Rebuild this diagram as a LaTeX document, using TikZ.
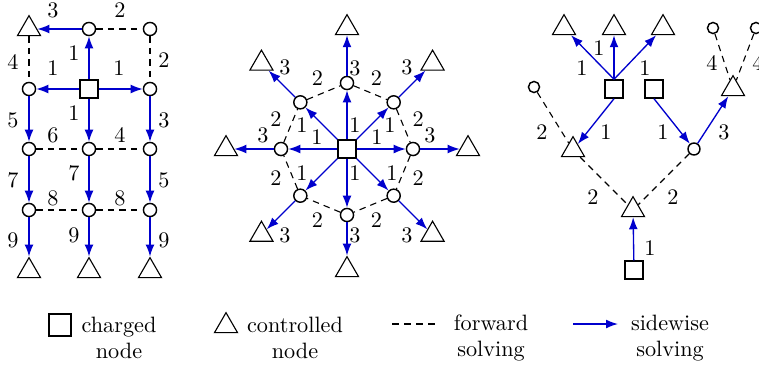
\documentclass[tikz,border=0pt]{standalone}
\usepackage{xcolor}
\usetikzlibrary{positioning,arrows.meta,calc,shapes.geometric}
\definecolor{sideblue}{RGB}{0,0,205}

\begin{document}
\begin{tikzpicture}[
    x=0.45pt, y=-0.45pt,
    charged/.style={draw, rectangle, fill=white, line width=0.65pt, minimum size=8.1pt, inner sep=0pt},
    ctrl/.style={draw, regular polygon, regular polygon sides=3, fill=white, minimum size=12pt, inner sep=0pt, line width=0.5pt},
    free/.style={draw, circle, fill=white, minimum size=5.9pt, inner sep=0pt, line width=0.65pt},
    fwd/.style={dash pattern=on 2.9pt off 2.3pt, line width=0.5pt},
    side/.style={-{Latex[length=5.4pt,width=4pt]}, sideblue, line width=0.6pt},
    lbl/.style={inner sep=0pt, text=black, font=\normalsize}
]
    \useasboundingbox (0,0) rectangle (759,364);
    \clip (0,0) rectangle (759,364);

    % grid
    \node[charged] (g) at (89,89) {};
    \node[ctrl] (t11) at (29,29) {};
    \node[free] (n12) at (89,29) {};
    \node[free] (n13) at (150,29) {};
    \node[free] (n21) at (29,89) {};
    \node[free] (n23) at (150,89) {};
    \foreach \c/\x in {1/29,2/89,3/150}{
        \node[free] (n3\c) at (\x,149) {};
        \node[free] (n4\c) at (\x,210) {};
        \node[ctrl] (t5\c) at (\x,271) {};
    }
    \draw[side] (g) -- (n12) node[lbl] at (74,53) {1};
    \draw[side] (g) -- (n21) node[lbl] at (53,68) {1};
    \draw[side] (g) -- (n23) node[lbl] at (119,68) {1};
    \draw[side] (g) -- (n32) node[lbl] at (74,113) {1};
    \draw[side] (n12) -- (t11) node[lbl] at (53,10) {3};
    \draw[fwd] (n12) -- (n13) node[lbl] at (120,10) {2};
    \draw[fwd] (n13) -- (n23) node[lbl] at (164,60) {2};
    \draw[fwd] (t11) -- (n21) node[lbl] at (13,62) {4};
    \draw[side] (n21) -- (n31) node[lbl] at (13,120) {5};
    \draw[side] (n23) -- (n33) node[lbl] at (164,120) {3};
    \draw[fwd] (n31) -- (n32) node[lbl] at (53,135) {6};
    \draw[fwd] (n32) -- (n33) node[lbl] at (120,135) {4};
    \draw[side] (n31) -- (n41) node[lbl] at (13,180) {7};
    \draw[side] (n32) -- (n42) node[lbl] at (74,173) {7};
    \draw[side] (n33) -- (n43) node[lbl] at (164,180) {5};
    \draw[fwd] (n41) -- (n42) node[lbl] at (53,198) {8};
    \draw[fwd] (n42) -- (n43) node[lbl] at (120,198) {8};
    \draw[side] (n41) -- (t51) node[lbl] at (13,240) {9};
    \draw[side] (n42) -- (t52) node[lbl] at (74,235) {9};
    \draw[side] (n43) -- (t53) node[lbl] at (164,240) {9};

    % star
    \node[charged] (star) at (347,149) {};
    \foreach \a/\ox/\oy/\tx/\ty in {0/30/-12/83/-14, 45/45/24/60/86, 90/8/24/8/86, 135/-45/24/-62/86,
                                    180/-30/-12/-84/-14, 225/-45/-24/-62/-82, 270/8/-24/8/-81, 315/43/-24/60/-82}{
        \node[free] (s\a) at ($(star)+(\a:66)$) {};
        \node[ctrl] (st\a) at ($(star)+(\a:121)$) {};
        \draw[side] (star) -- (s\a) node[lbl] at ($(star)+(\ox,\oy)$) {1};
        \draw[side] (s\a) -- (st\a) node[lbl] at ($(star)+(\tx,\ty)$) {3};
    }
    \foreach \a [evaluate=\a as \b using {int(mod(\a+45,360))}] in {0,45,...,315}
        \draw[fwd] (s\a) -- (s\b) node[lbl] at ($(star)+(\a+22.5:77)$) {2};

    % tree
    \node[ctrl] (ta1) at (564,28) {};
    \node[ctrl] (ta2) at (614,28) {};
    \node[ctrl] (ta3) at (663,28) {};
    \node[charged] (qa) at (614,89) {};
    \node[charged] (qb) at (654,89) {};
    \node[free, minimum size=5pt] (cl) at (534,87) {};
    \node[ctrl] (tl) at (573,150) {};
    \node[free, minimum size=5.4pt] (cr) at (694,149) {};
    \node[ctrl] (tr) at (733,89) {};
    \node[free, minimum size=5pt] (cr1) at (713,28) {};
    \node[free, minimum size=5pt] (cr2) at (756,28) {};
    \node[ctrl] (tb) at (633,210) {};
    \node[charged] (qc) at (634,270) {};
    \draw[side] (qa.north) -- (ta1) node[lbl] at (582,68) {1};
    \draw[side] (qa.north) -- (ta2) node[lbl] at (599,48) {1};
    \draw[side] (qa.north) -- (ta3) node[lbl] at (645,68) {1};
    \draw[side] (qa.south) -- (tl) node[lbl] at (606,132) {1};
    \draw[fwd] (cl) -- (tl) node[lbl] at (542,132) {2};
    \draw[side] (qb.south) -- (cr) node[lbl] at (663,132) {1};
    \draw[side] (cr) -- (tr) node[lbl] at (724,132) {3};
    \draw[fwd] (cr1) -- (tr) node[lbl] at (712,63) {4};
    \draw[fwd] (cr2) -- (tr) node[lbl] at (758,63) {4};
    \draw[fwd] (tl) -- (tb) node[lbl] at (593,197) {2};
    \draw[fwd] (cr) -- (tb) node[lbl] at (673,197) {2};
    \draw[side] (qc) -- (tb) node[lbl] at (650,248) {1};

    % legend
    \node[charged, minimum size=9.9pt] (lq) at (60,325) {};
    \node[lbl, align=center] (lqt) at (119,338) {charged\\node};
    \node[ctrl] (lt) at (226,326) {};
    \node[lbl, align=center] (ltt) at (295,338) {controlled\\node};
    \coordinate (lf1) at (392,324);
    \coordinate (lf2) at (438,324);
    \draw[fwd, dash pattern=on 3.2pt off 2.2pt] (lf1) -- (lf2);
    \node[lbl, align=center] (lft) at (491,338) {forward\\solving};
    \coordinate (ls1) at (573,324);
    \coordinate (ls2) at (618,324);
    \draw[side] (ls1) -- (ls2);
    \node[lbl, align=center] (lst) at (670,338) {sidewise\\solving};
\end{tikzpicture}
\end{document}
